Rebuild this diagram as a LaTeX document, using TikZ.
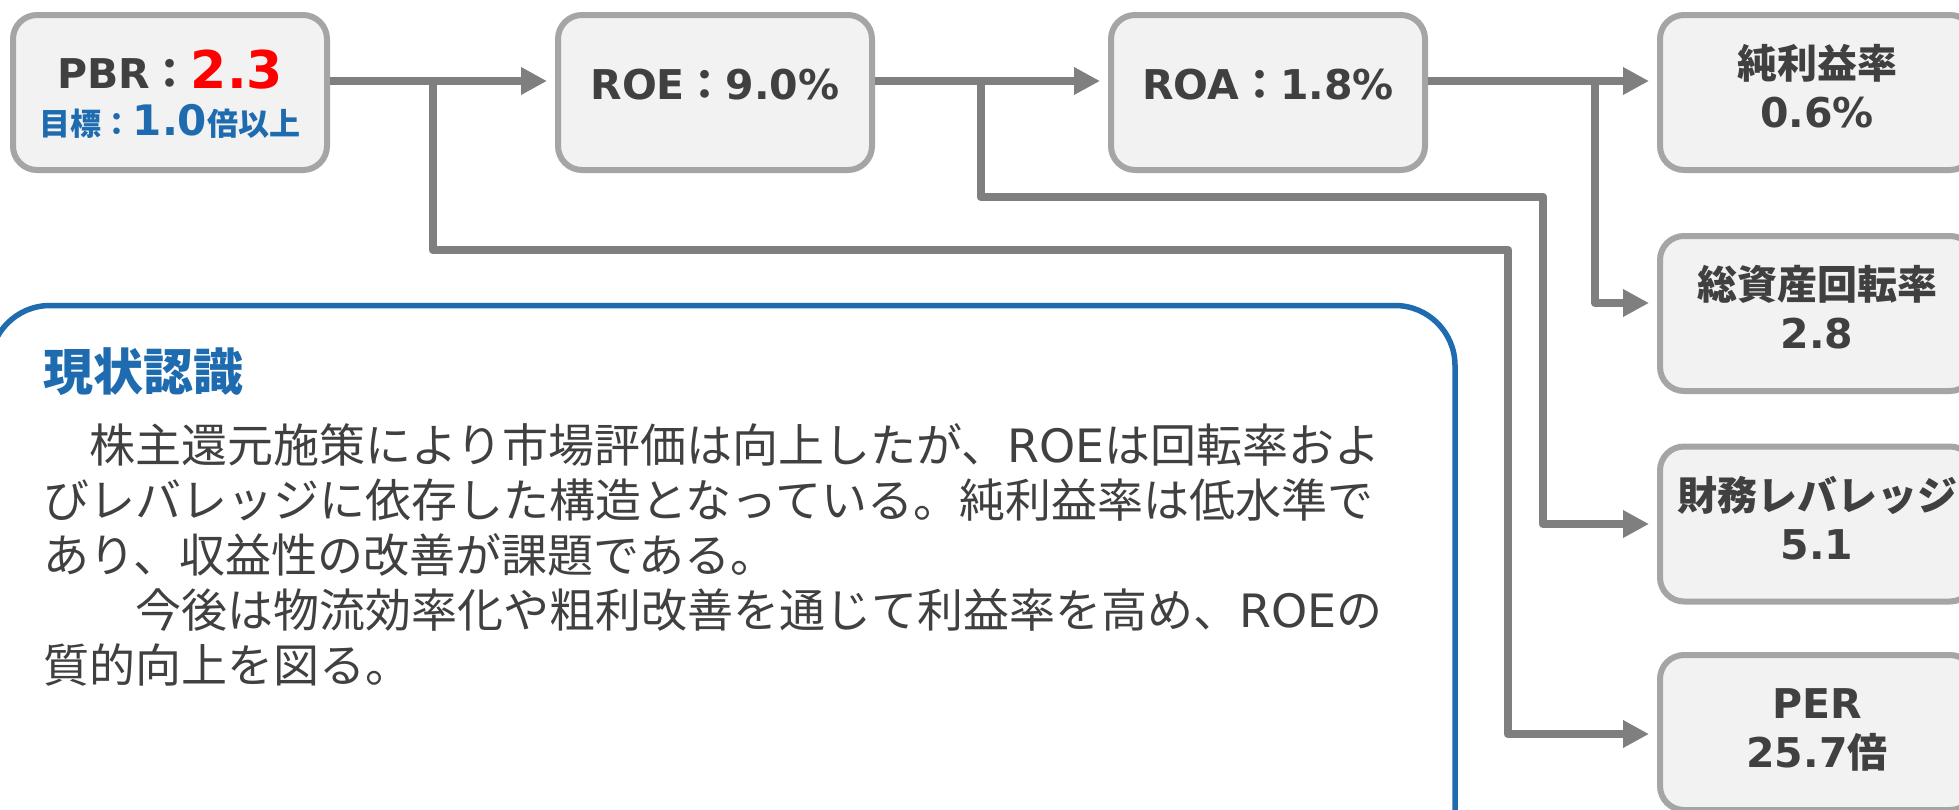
\documentclass[tikz,border=0pt]{standalone}
\usepackage{fontspec}
\setmainfont{Noto Sans CJK JP}
\newfontfamily\jp{Noto Sans CJK JP}
\newfontfamily\dv{DejaVu Sans}
\usetikzlibrary{arrows.meta,calc}
\definecolor{conncol}{HTML}{7F7F7F}
\definecolor{boxline}{HTML}{A5A5A5}
\definecolor{boxfill}{HTML}{F2F2F2}
\definecolor{txt}{HTML}{404040}
\definecolor{blu}{HTML}{1E6BB0}
\definecolor{redv}{HTML}{FF0000}
\tikzset{
  kbox/.style={draw=boxline, fill=boxfill, line width=6pt, rounded corners=24pt,
    minimum width=314pt, minimum height=155pt, inner sep=0pt},
  conn/.style={draw=conncol, line width=8.5pt, line join=round,
    -{Triangle[length=26pt,width=26pt]}, shorten >=8pt},
  lbl/.style={anchor=base, text=txt, inner sep=0pt, font=\bfseries},
  body/.style={anchor=base west, text=txt, inner sep=0pt, font=\fontsize{46}{46}\selectfont},
  panel/.style={draw=blu, fill=white, line width=5.5pt, rounded corners=60pt,
    minimum width=1465pt, minimum height=644.5pt, inner sep=0pt},
}
\begin{document}
\begin{tikzpicture}[x=1pt,y=-1pt]
\useasboundingbox (0,0) rectangle (1959,809);
\clip (0,0) rectangle (1959,809);
\fill[white] (0,0) rectangle (1959,809);

% boxes
\node[kbox] (pbr) at (170,92.5) {};
\node[kbox] (roe) at (715,92.5) {};
\node[kbox] (roa) at (1268,92.5) {};
\node[kbox] (npm) at (1817,92.5) {};
\node[kbox] (tat) at (1817,313.5) {};
\node[kbox] (lev) at (1817,524) {};
\node[kbox] (per) at (1817,732.5) {};

% box texts
\node[lbl] (pbrt1) at (170,88) {\fontsize{41}{41}\selectfont\dv PBR\jp ：\fontsize{52}{52}\selectfont\color{redv}\dv 2.3};
\node[lbl,text=blu] (pbrt2) at (170,135) {\fontsize{31}{31}\selectfont 目標：\dv\fontsize{42}{42}\selectfont 1.0\jp\fontsize{31}{31}\selectfont 倍以上};
\node[lbl] (roet) at (715,99) {\fontsize{41}{41}\selectfont\dv ROE\jp ：\dv 9.0\%};
\node[lbl] (roat) at (1268,99) {\fontsize{41}{41}\selectfont\dv ROA\jp ：\dv 1.8\%};

\node[lbl] (npmt1) at (1817,78.5) {\fontsize{40}{40}\selectfont 純利益率};
\node[lbl] (npmt2) at (1817,127.5) {\fontsize{41}{41}\selectfont\dv 0.6\%};
\node[lbl] (tatt1) at (1817,299.5) {\fontsize{40}{40}\selectfont 総資産回転率};
\node[lbl] (tatt2) at (1817,348.5) {\fontsize{41}{41}\selectfont\dv 2.8};
\node[lbl] (levt1) at (1817,510) {\fontsize{40}{40}\selectfont 財務レバレッジ};
\node[lbl] (levt2) at (1817,559) {\fontsize{41}{41}\selectfont\dv 5.1};
\node[lbl] (pert1) at (1817,718.5) {\fontsize{41}{41}\selectfont\dv PER};
\node[lbl] (pert2) at (1817,767.5) {\fontsize{41}{41}\selectfont\dv 25.7\jp\fontsize{40}{40}\selectfont 倍};

% connectors
\coordinate (j1) at (433,81);
\coordinate (j2) at (981,81);
\coordinate (j3) at (1595,81);
\coordinate (c1a) at (433,250);
\coordinate (c1b) at (1508,250);
\coordinate (c1c) at (1508,734);
\coordinate (c2a) at (981,197);
\coordinate (c2b) at (1543,197);
\coordinate (c2c) at (1543,524);
\coordinate (c3a) at (1595,303);

\draw[conn] (pbr.east |- j1) -- (roe.west |- j1);
\draw[conn] (roe.east |- j2) -- (roa.west |- j2);
\draw[conn] (roa.east |- j3) -- (npm.west |- j3);
\draw[conn] (j1) -- (c1a) -- (c1b) -- (c1c) -- (c1c -| per.west);
\draw[conn] (j2) -- (c2a) -- (c2b) -- (c2c) -- (c2c -| lev.west);
\draw[conn] (j3) -- (c3a) -- (c3a -| tat.west);

% note panel
\node[panel] (note) at (722.5,627.75) {};
\node[anchor=base west, text=blu, inner sep=0pt, font=\bfseries\fontsize{50}{50}\selectfont] (head) at (43,390) {現状認識};
\node[body] (l1) at (43,462.5) {　株主還元施策により市場評価は向上したが、{\dv ROE}は回転率およ};
\node[body] (l2) at (43,517.5) {びレバレッジに依存した構造となっている。純利益率は低水準で};
\node[body] (l3) at (43,572.5) {あり、収益性の改善が課題である。};
\node[body] (l4) at (43,627.5) {　　今後は物流効率化や粗利改善を通じて利益率を高め、{\dv ROE}の};
\node[body] (l5) at (43,682.5) {質的向上を図る。};
\end{tikzpicture}
\end{document}
